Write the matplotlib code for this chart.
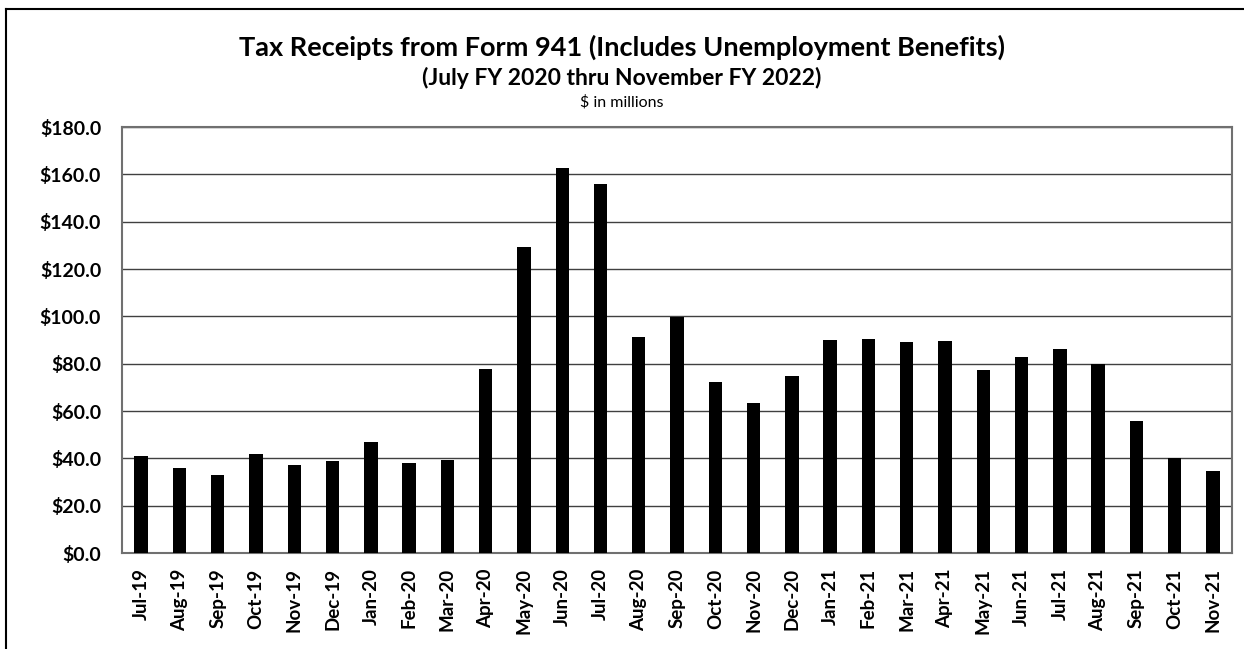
import matplotlib
matplotlib.use("Agg")
import matplotlib.pyplot as plt
from matplotlib.lines import Line2D
from matplotlib.ticker import FuncFormatter

# Monthly receipts, $ in millions
months = ["Jul-19", "Aug-19", "Sep-19", "Oct-19", "Nov-19", "Dec-19", "Jan-20",
          "Feb-20", "Mar-20", "Apr-20", "May-20", "Jun-20", "Jul-20", "Aug-20",
          "Sep-20", "Oct-20", "Nov-20", "Dec-20", "Jan-21", "Feb-21", "Mar-21",
          "Apr-21", "May-21", "Jun-21", "Jul-21", "Aug-21", "Sep-21", "Oct-21",
          "Nov-21"]
receipts = [40.8, 35.8, 33.0, 42.0, 37.0, 39.0, 46.8,
            38.0, 39.4, 77.7, 129.4, 162.7, 155.8, 91.3,
            99.9, 72.4, 63.2, 74.6, 90.1, 90.6, 89.3,
            89.7, 77.5, 82.7, 86.3, 79.9, 55.6, 40.1,
            34.5]
y_ticks = [0, 20, 40, 60, 80, 100, 120, 140, 160, 180]

plt.rcParams['font.family'] = ['Lato', 'DejaVu Sans']

fig = plt.figure(figsize=(12.44, 6.49), dpi=100)
ax = fig.add_axes([0.0981, 0.1479, 0.8923, 0.6564])

x = range(len(months))
ax.bar(x, receipts, width=0.35, color='black', zorder=3)

ax.set_xlim(-0.5, len(months) - 0.5)
ax.set_ylim(0, 180)
ax.set_yticks(y_ticks)
ax.yaxis.set_major_formatter(FuncFormatter(lambda v, p: f"${v:.1f}"))
ax.set_xticks(list(x))
ax.set_xticklabels(months, rotation=90)
ax.tick_params(axis='y', length=0, labelsize=14, pad=15)
ax.tick_params(axis='x', length=0, labelsize=13.5, pad=11)
for lbl in ax.get_xticklabels() + ax.get_yticklabels():
    lbl.set_fontweight('bold')

ax.grid(axis='y', color='#404040', linewidth=1.0, zorder=0)
for sp in ax.spines.values():
    sp.set_color('#707070')
    sp.set_linewidth(1.5)

fig.text(0.5, 0.927, "Tax Receipts from Form 941 (Includes Unemployment Benefits)",
         ha='center', va='center', fontsize=19.5, fontweight='bold')
fig.text(0.5, 0.880, "(July FY 2020 thru November FY 2022)",
         ha='center', va='center', fontsize=16.5, fontweight='bold')
fig.text(0.5, 0.843, "$ in millions", ha='center', va='center', fontsize=11.5)

# outer chart-area border (top and left edges visible)
fig.add_artist(Line2D([6 / 1244, 6 / 1244], [0, 1 - 9 / 649], color='black', linewidth=1.5))
fig.add_artist(Line2D([6 / 1244, 1], [1 - 9 / 649, 1 - 9 / 649], color='black', linewidth=1.5))

fig.savefig("out.png", dpi=100)
